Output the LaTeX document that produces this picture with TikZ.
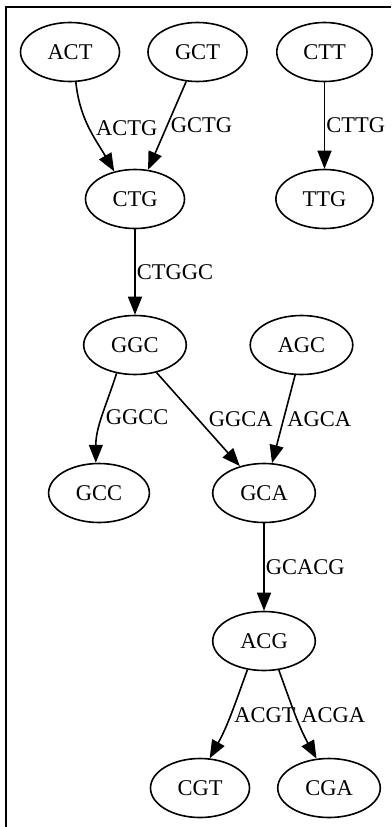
\documentclass[tikz,border=0pt]{standalone}
\usepackage{fontspec}
\setmainfont{Liberation Serif}
\usetikzlibrary{arrows.meta,shapes.geometric,positioning}
\tikzset{
    kmer/.style={ellipse, draw, line width=1.6pt,
        inner xsep=12.5pt, inner ysep=0pt, minimum height=59pt,
        font=\fontsize{22.5}{26}\selectfont},
    arrow/.style={->, >={Triangle[length=18pt,width=14pt]}, line width=1.6pt},
    lbl/.style={anchor=west, inner sep=1pt, font=\fontsize{22.5}{26}\selectfont},
    frame/.style={line width=1.6pt}
}
\begin{document}
\begin{tikzpicture}[on grid]
    \useasboundingbox (0,0) rectangle (391pt,-827pt);
    \draw[frame] (6pt,-827pt) -- (6pt,-7pt) -- (391pt,-7pt);
    \node[kmer] (act) at (70pt,-52pt) {ACT};
    \node[kmer] (gct) [right=127.5pt of act] {GCT};
    \node[kmer] (ctt) [right=127pt of gct] {CTT};
    \node[kmer] (ctg) [below right=147pt and 65pt of act] {CTG};
    \node[kmer] (ttg) [below=147pt of ctt] {TTG};
    \node[kmer] (ggc) [below=146pt of ctg] {GGC};
    \node[kmer] (agc) [right=166.5pt of ggc] {AGC};
    \node[kmer] (gcc) [below left=148pt and 36pt of ggc] {GCC};
    \node[kmer] (gca) [right=165pt of gcc] {GCA};
    \node[kmer] (acg) [below=148pt of gca] {ACG};
    \node[kmer] (cgt) [below left=147pt and 64pt of acg] {CGT};
    \node[kmer] (cga) [right=129pt of cgt] {CGA};
    \path (act.-79) edge [arrow, out=-84, in=120] node[lbl, xshift=5pt] {ACTG} (ctg.127)
        (gct.-111) edge [arrow] node[lbl, xshift=2pt] {GCTG} (ctg.66)
        (ctt) edge [arrow] node[lbl] {CTTG} (ttg)
        (ctg) edge [arrow] node[lbl] {CTGGC} (ggc)
        (ggc.-123) edge [arrow, out=-108, in=90] node[lbl, xshift=2pt] {GGCC} (gcc.96)
        (ggc.-52) edge [arrow] node[lbl, xshift=9pt] {GGCA} (gca.132)
        (agc.-102) edge [arrow] node[lbl, xshift=2pt] {AGCA} (gca.75)
        (gca) edge [arrow] node[lbl] {GCACG} (acg)
        (acg.-120) edge [arrow, out=-110, in=61] node[lbl, xshift=2pt] {ACGT} (cgt.72)
        (acg.-63) edge [arrow, out=-70, in=119] node[lbl, xshift=4pt] {ACGA} (cga.113);
\end{tikzpicture}
\end{document}
